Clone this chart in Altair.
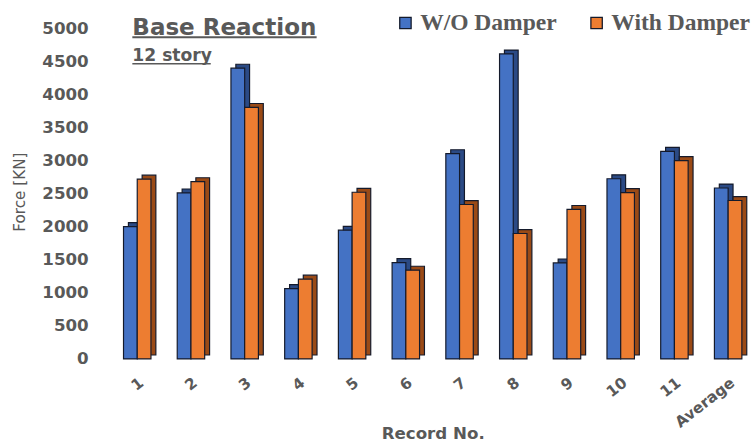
import json

import altair as alt
import pandas as pd

# Base reaction of a 12-story frame, per ground-motion record
records = ["1", "2", "3", "4", "5", "6", "7", "8", "9", "10", "11", "Average"]
wo_damper = [2005, 2515, 4405, 1065, 1950, 1460, 3110, 4620, 1455, 2730, 3145, 2590]
with_damper = [2725, 2685, 3810, 1210, 2525, 1345, 2340, 1900, 2265, 2520, 3005, 2400]
series = ["W/O Damper", "With Damper"]
y_ticks = list(range(0, 5001, 500))

CHART_TITLE = "Base Reaction"
SUBTITLE = "12 story"
X_TITLE = "Record No."
Y_TITLE = "Force [KN]"

rows = []
for i, rec in enumerate(records):
    rows.append({"rec": rec, "idx": i, "series": series[0], "value": wo_damper[i]})
    rows.append({"rec": rec, "idx": i, "series": series[1], "value": with_damper[i]})
df = pd.DataFrame(rows)

GRAY = "#595959"
EDGE = "#141a2b"
FRONT = ["#4472C4", "#ED7D31"]
DEPTH = ["#2B4A85", "#9A4A16"]
BAR = 0.2555          # width of one column, in category units
PLOT_W, PLOT_H = 657.6, 336.7
FONT = "DejaVu Sans"

base = alt.Chart(df).transform_calculate(
    x0=f"datum.idx + (datum.series == '{series[0]}' ? -{BAR} : 0)"
).transform_calculate(x1=f"datum.x0 + {BAR}")

x_enc = alt.X(
    "x0:Q",
    scale=alt.Scale(domain=[-0.5, len(records) - 0.5], nice=False, zero=False),
    axis=alt.Axis(
        values=list(range(len(records))),
        labelExpr=json.dumps(records) + "[datum.value]",
        labelAngle=-38,
        labelAlign="right",
        labelBaseline="middle",
        labelPadding=22,
        labelOffset=4,
        labelFlush=False,
        labelOverlap=False,
        labelBound=False,
        ticks=False,
        tickSize=0,
        domain=False,
        grid=False,
        labelFont=FONT,
        labelFontWeight="bold",
        labelFontSize=15.5,
        labelColor=GRAY,
        title=X_TITLE,
        titleFont=FONT,
        titleFontWeight="bold",
        titleFontSize=17,
        titleColor=GRAY,
        titleY=81.5,
        titleBaseline="alphabetic",
    ),
)

y_enc = alt.Y(
    "value:Q",
    scale=alt.Scale(domain=[0, 5000], nice=False),
    axis=alt.Axis(
        values=y_ticks,
        format="d",
        grid=False,
        domain=False,
        ticks=False,
        tickSize=0,
        labelPadding=22.6,
        labelFont=FONT,
        labelFontWeight="bold",
        labelFontSize=17,
        labelColor=GRAY,
        title=Y_TITLE,
        titleFont=FONT,
        titleFontWeight="normal",
        titleFontSize=15.5,
        titleColor=GRAY,
        titleX=-87.6,
        titleY=166,
        titleAngle=270,
        titleAlign="center",
        titleBaseline="alphabetic",
    ),
)

# Shifted dark copy of every column gives the top and side faces
depth = base.mark_rect(
    xOffset=5, x2Offset=5, yOffset=-4, y2Offset=-4, stroke=EDGE, strokeWidth=1.2
).encode(
    x=x_enc,
    x2="x1:Q",
    y=y_enc,
    y2=alt.datum(0),
    color=alt.Color("series:N", scale=alt.Scale(domain=series, range=DEPTH), legend=None),
)

front = base.mark_rect(stroke=EDGE, strokeWidth=1.2).encode(
    x=x_enc,
    x2="x1:Q",
    y=y_enc,
    y2=alt.datum(0),
    color=alt.Color(
        "series:N",
        scale=alt.Scale(domain=series, range=FRONT),
        legend=alt.Legend(
            title=None,
            orient="none",
            legendX=289,
            legendY=-18,
            direction="horizontal",
            symbolType="square",
            symbolSize=135,
            symbolStrokeColor=EDGE,
            symbolStrokeWidth=1.3,
            symbolOpacity=1,
            labelFont="Liberation Serif",
            labelFontWeight="bold",
            labelFontSize=24,
            labelColor=GRAY,
            labelOffset=3,
            labelLimit=0,
            columnPadding=28,
            padding=0,
        ),
    ),
)

title_df = pd.DataFrame({"t": [CHART_TITLE]})
sub_df = pd.DataFrame({"t": [SUBTITLE]})

title = alt.Chart(title_df).mark_text(
    align="left", baseline="alphabetic", font=FONT, fontWeight="bold", fontSize=23.5, color=GRAY
).encode(x=alt.value(22.4), y=alt.value(6), text="t:N")
title_line = alt.Chart(title_df).mark_rule(color=GRAY, strokeWidth=2).encode(
    x=alt.value(22.4), x2=alt.value(210.4), y=alt.value(8.5)
)

subtitle = alt.Chart(sub_df).mark_text(
    align="left", baseline="alphabetic", font=FONT, fontWeight="bold", fontSize=17.5, color=GRAY
).encode(x=alt.value(22.4), y=alt.value(32.3), text="t:N")
subtitle_line = alt.Chart(sub_df).mark_rule(color=GRAY, strokeWidth=1.5).encode(
    x=alt.value(22.4), x2=alt.value(102.4), y=alt.value(35.5)
)

chart = (
    alt.layer(depth, front, title, title_line, subtitle, subtitle_line)
    .resolve_scale(color="independent")
    .properties(
        width=PLOT_W,
        height=PLOT_H,
        autosize=alt.AutoSizeParams(type="none"),
        padding={"left": 112.6, "top": 25, "right": 0, "bottom": 81.3},
        background="white",
    )
    .configure_view(strokeWidth=0)
)

chart.save("out.html", embed_options={"renderer": "svg", "actions": False})
